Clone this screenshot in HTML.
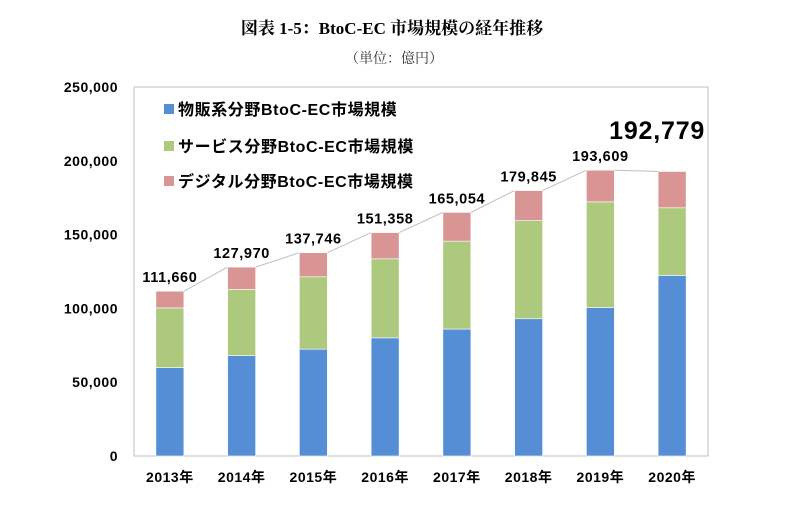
<!DOCTYPE html>
<html><head><meta charset="utf-8"><style>
body{margin:0;background:#fff;width:794px;height:502px;overflow:hidden}
svg text{font-family:"Liberation Sans","Noto Sans CJK JP",sans-serif}
</style></head><body>
<svg id="chart" width="794" height="502" xmlns="http://www.w3.org/2000/svg">
<text x="392" y="34" text-anchor="middle" font-size="17" font-weight="bold" style="font-family:'Liberation Serif','Noto Serif CJK SC',serif">図表 1-5：BtoC-EC 市場規模の経年推移</text>
<text x="394" y="63" text-anchor="middle" font-size="14" fill="#333" style="font-family:'Liberation Serif','Noto Serif CJK SC',serif">（単位：億円）</text>
<rect x="134" y="87" width="574" height="369" fill="none" stroke="#bfbfbf" stroke-width="1"/>
<g id="axes"></g><g id="bars"></g><g id="labels"></g>
<g>
<rect x="164" y="104" width="10" height="10" fill="#558ed5"/>
<text x="178" y="115" font-size="16" font-weight="bold" letter-spacing="0.6">物販系分野BtoC-EC市場規模</text>
<rect x="164" y="141" width="10" height="10" fill="#adc97e"/>
<text x="178" y="152" font-size="16" font-weight="bold" letter-spacing="0.6">サービス分野BtoC-EC市場規模</text>
<rect x="164" y="176" width="10" height="10" fill="#d99594"/>
<text x="178" y="187" font-size="16" font-weight="bold" letter-spacing="0.6">デジタル分野BtoC-EC市場規模</text>
</g>
</svg>
<script>
const years=["2013年","2014年","2015年","2016年","2017年","2018年","2019年","2020年"];
const goods=[59931,68043,72398,80043,86008,92992,100515,122333];
const services=[40398,44816,49014,53532,59568,66471,71672,45832];
const digital=[11331,15111,16334,17782,19478,20382,21422,24614];
const totals=["111,660","127,970","137,746","151,358","165,054","179,845","193,609","192,779"];
const yTicks=[0,50000,100000,150000,200000,250000];
const yTickLabels=["0","50,000","100,000","150,000","200,000","250,000"];
const NS="http://www.w3.org/2000/svg";
const X0=134,Y0=456,YMAX=250000,PH=369,STEP=71.75,BW=28;
const y=v=>Y0-v/YMAX*PH;
const xc=i=>X0+STEP*(i+0.5);
function mk(t,a,p){const e=document.createElementNS(NS,t);for(const k in a)e.setAttribute(k,a[k]);p.appendChild(e);return e;}
const axes=document.getElementById('axes'),bars=document.getElementById('bars'),labels=document.getElementById('labels');
yTicks.forEach((v,i)=>{const t=mk('text',{x:118,y:y(v)+5,'text-anchor':'end','font-size':14,'font-weight':'bold','letter-spacing':0.5},axes);


t.textContent=yTickLabels[i];});
const series=[[goods,'#558ed5','goods'],[services,'#adc97e','services'],[digital,'#d99594','digital']];
years.forEach((yr,i)=>{
 let base=0;
 series.forEach(([arr,c,n])=>{const r=mk('rect',{x:xc(i)-BW/2,y:y(base+arr[i]),width:BW,height:y(base)-y(base+arr[i]),fill:c,stroke:'#fff','stroke-width':0.6},bars);
 
 
 base+=arr[i];});
 const tx=mk('text',{x:xc(i),y:Y0+26,'text-anchor':'middle','font-size':14,'font-weight':'bold','letter-spacing':0.5},axes);
 
 
 tx.textContent=yr;
 const tot=goods[i]+services[i]+digital[i];
 if(i<years.length-1){
  const tot2=goods[i+1]+services[i+1]+digital[i+1];
  const l=mk('line',{x1:xc(i)+BW/2,y1:y(tot),x2:xc(i+1)-BW/2,y2:y(tot2),stroke:'#bfbfbf','stroke-width':1},bars);
  
  
  const lb=mk('text',{x:xc(i),y:y(tot)-9,'text-anchor':'middle','font-size':14.5,'font-weight':'bold','letter-spacing':0.6},labels);
  
  
  lb.textContent=totals[i];
 } else {
  const lb=mk('text',{x:xc(i)-15,y:139,'text-anchor':'middle','font-size':25,'font-weight':'bold','letter-spacing':0.8},labels);
  
  
  lb.textContent=totals[i];
 }
});
</script>
</body></html>
